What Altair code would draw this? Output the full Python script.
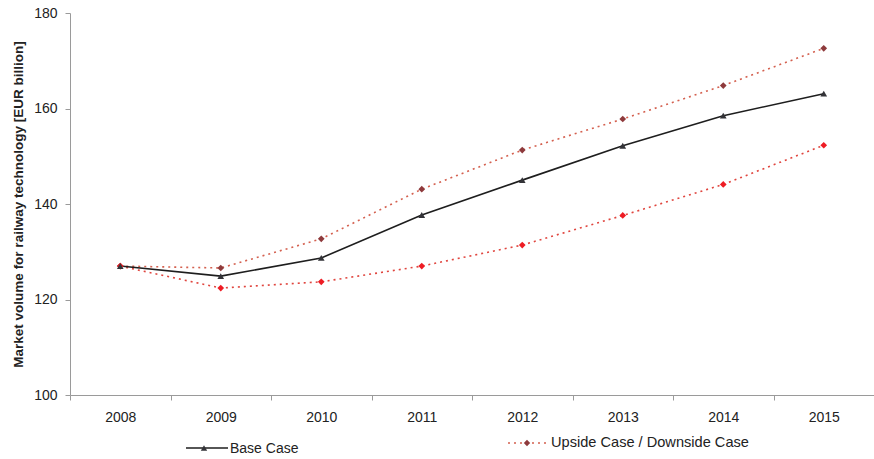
import altair as alt
import pandas as pd

years = ["2008", "2009", "2010", "2011", "2012", "2013", "2014", "2015"]
base_case = [127.0, 124.9, 128.7, 137.7, 145.0, 152.2, 158.5, 163.1]
upside_case = [127.0, 126.6, 132.7, 143.1, 151.3, 157.8, 164.8, 172.6]
downside_case = [127.0, 122.4, 123.7, 127.0, 131.4, 137.6, 144.1, 152.3]
series_names = ["Base Case", "Upside Case", "Downside Case"]
legend_labels = ["Base Case", "Upside Case / Downside Case"]

rows = []
for name, vals in zip(series_names, [base_case, upside_case, downside_case]):
    for y, v in zip(years, vals):
        rows.append({"year": y, "value": v, "series": name})
df = pd.DataFrame(rows)

FONT = "Liberation Sans"

x_enc = alt.X("year:O", scale=alt.Scale(type="band", paddingInner=0, paddingOuter=0),
              axis=alt.Axis(title=None, labelAngle=0, tickBand="extent", tickSize=5,
                            labelPadding=10, labelFontSize=14, labelColor="#222",
                            domainColor="#9a9a9a", tickColor="#9a9a9a", labelFont=FONT))
y_enc = alt.Y("value:Q", scale=alt.Scale(domain=[100, 180], nice=False, zero=False),
              axis=alt.Axis(title="Market volume for railway technology [EUR billion]",
                            values=[100, 120, 140, 160, 180], grid=False, tickSize=5,
                            labelPadding=8,
                            labelFontSize=14, labelColor="#222", labelFont=FONT,
                            titleFont=FONT, titleFontSize=13.5, titleFontWeight="bold",
                            titleColor="#222", titlePadding=8,
                            domainColor="#9a9a9a", tickColor="#9a9a9a"))

base_df = df[df.series == "Base Case"]
up_df = df[df.series == "Upside Case"]
down_df = df[df.series == "Downside Case"]

base_line = alt.Chart(base_df).mark_line(color="#1e1e1e", strokeWidth=1.6).encode(x=x_enc, y=y_enc)
base_pts = alt.Chart(base_df).mark_point(shape="triangle-up", filled=True, size=45,
                                         color="#333338", opacity=1).encode(x=x_enc, y=y_enc)
up_line = alt.Chart(up_df).mark_line(color="#d4604f", strokeWidth=1.6,
                                     strokeDash=[2, 4]).encode(x=x_enc, y=y_enc)
up_pts = alt.Chart(up_df).mark_point(shape="diamond", filled=True, size=45,
                                     color="#8e3a3c", opacity=1).encode(x=x_enc, y=y_enc)
down_line = alt.Chart(down_df).mark_line(color="#e0453e", strokeWidth=1.6,
                                         strokeDash=[2, 4]).encode(x=x_enc, y=y_enc)
down_pts = alt.Chart(down_df).mark_point(shape="diamond", filled=True, size=45,
                                         color="#ee1c24", opacity=1).encode(x=x_enc, y=y_enc)

# manual legend
leg1 = pd.DataFrame({"label": [legend_labels[0]]})
leg2 = pd.DataFrame({"label": [legend_labels[1]]})
l1_line = alt.Chart(leg1).mark_rule(color="#1e1e1e", strokeWidth=1.6).encode(
    x=alt.value(116), x2=alt.value(158), y=alt.value(435))
l1_pt = alt.Chart(leg1).mark_point(shape="triangle-up", filled=True, size=40,
                                   color="#333338", opacity=1).encode(x=alt.value(134), y=alt.value(435))
l1_txt = alt.Chart(leg1).mark_text(align="left", baseline="middle", fontSize=14, font=FONT,
                                   color="#222").encode(x=alt.value(160), y=alt.value(436),
                                                        text="label:N")
l2_line = alt.Chart(leg2).mark_rule(color="#d4604f", strokeWidth=1.6, strokeDash=[2, 4]).encode(
    x=alt.value(438), x2=alt.value(476), y=alt.value(430))
l2_pt = alt.Chart(leg2).mark_point(shape="diamond", filled=True, size=40,
                                   color="#8e3a3c", opacity=1).encode(x=alt.value(457), y=alt.value(430))
l2_txt = alt.Chart(leg2).mark_text(align="left", baseline="middle", fontSize=14.6, font=FONT,
                                   color="#222").encode(x=alt.value(481), y=alt.value(430),
                                                        text="label:N")

chart = alt.layer(
    up_line, down_line, base_line, up_pts, down_pts, base_pts,
    l1_line, l1_pt, l1_txt, l2_line, l2_pt, l2_txt
).properties(
    width=804, height=382,
    autosize=alt.AutoSizeParams(type="none"),
    padding={"left": 70, "top": 13, "right": 0, "bottom": 64},
    background="white",
).configure_view(stroke=None)

chart.save("out.html", embed_options={"renderer": "svg", "actions": False})
